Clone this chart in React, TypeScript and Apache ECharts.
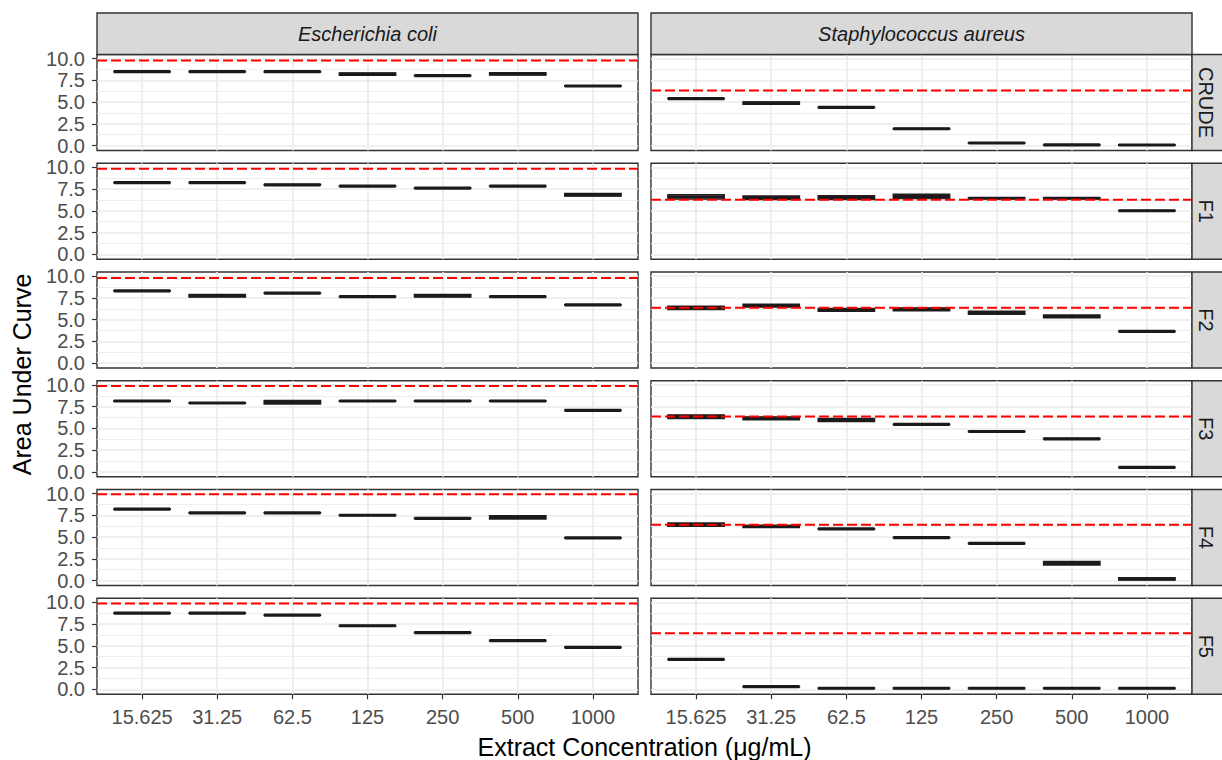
import React, { useEffect, useRef } from "react";
import * as echarts from "echarts";

const concentrations = ["15.625", "31.25", "62.5", "125", "250", "500", "1000"];
const fractions = ["CRUDE", "F1", "F2", "F3", "F4", "F5"];
const bacteria = ["Escherichia coli", "Staphylococcus aureus"];
const yMajorTicks = [0, 2.5, 5, 7.5, 10];
const yMinorTicks = [1.25, 3.75, 6.25, 8.75];

// Escherichia coli: one row per fraction (CRUDE, F1..F5), one value per concentration
const ecoliMedian = [
  [8.5, 8.5, 8.5, 8.22, 8.05, 8.25, 6.85],
  [8.25, 8.25, 8.0, 7.85, 7.62, 7.85, 6.85],
  [8.3, 7.75, 8.05, 7.65, 7.75, 7.65, 6.7],
  [8.15, 7.92, 8.0, 8.15, 8.15, 8.15, 7.07],
  [8.23, 7.79, 7.79, 7.52, 7.16, 7.28, 4.91],
  [8.78, 8.78, 8.55, 7.32, 6.52, 5.61, 4.82],
];
const ecoliLow = [
  [8.48, 8.48, 8.47, 8.1, 8.03, 8.12, 6.83],
  [8.23, 8.23, 7.98, 7.83, 7.6, 7.83, 6.7],
  [8.28, 7.6, 8.03, 7.63, 7.6, 7.63, 6.68],
  [8.13, 7.9, 7.8, 8.13, 8.13, 8.13, 7.05],
  [8.21, 7.77, 7.77, 7.5, 7.14, 7.1, 4.89],
  [8.76, 8.76, 8.53, 7.3, 6.5, 5.59, 4.8],
];
const ecoliHigh = [
  [8.52, 8.52, 8.53, 8.35, 8.07, 8.38, 6.87],
  [8.27, 8.27, 8.02, 7.87, 7.64, 7.87, 7.0],
  [8.32, 7.9, 8.07, 7.67, 7.9, 7.67, 6.72],
  [8.17, 7.94, 8.2, 8.17, 8.17, 8.17, 7.09],
  [8.25, 7.81, 7.81, 7.54, 7.18, 7.45, 4.93],
  [8.8, 8.8, 8.57, 7.34, 6.54, 5.63, 4.84],
];
const ecoliControl = [9.8, 9.85, 9.8, 9.87, 9.95, 9.88];

// Staphylococcus aureus
const saureusMedian = [
  [5.4, 4.88, 4.39, 1.93, 0.29, 0.08, 0.06],
  [6.6, 6.53, 6.55, 6.65, 6.45, 6.45, 5.01],
  [6.35, 6.6, 6.12, 6.18, 5.79, 5.36, 3.64],
  [6.37, 6.15, 5.96, 5.46, 4.64, 3.8, 0.5],
  [6.43, 6.23, 5.94, 4.95, 4.27, 1.98, 0.18],
  [3.44, 0.3, 0.12, 0.12, 0.12, 0.12, 0.12],
];
const saureusLow = [
  [5.38, 4.75, 4.37, 1.91, 0.27, 0.06, 0.04],
  [6.35, 6.32, 6.32, 6.42, 6.38, 6.38, 4.99],
  [6.15, 6.45, 5.95, 6.02, 5.62, 5.2, 3.62],
  [6.15, 6.0, 5.78, 5.44, 4.62, 3.78, 0.48],
  [6.25, 6.12, 5.92, 4.93, 4.25, 1.8, 0.05],
  [3.42, 0.28, 0.1, 0.1, 0.1, 0.1, 0.1],
];
const saureusHigh = [
  [5.42, 5.02, 4.41, 1.95, 0.31, 0.1, 0.08],
  [6.85, 6.72, 6.75, 6.9, 6.52, 6.52, 5.03],
  [6.55, 6.78, 6.28, 6.34, 5.95, 5.52, 3.66],
  [6.55, 6.3, 6.15, 5.48, 4.66, 3.82, 0.52],
  [6.62, 6.33, 5.96, 4.97, 4.29, 2.18, 0.32],
  [3.46, 0.32, 0.14, 0.14, 0.14, 0.14, 0.14],
];
const saureusControl = [6.34, 6.28, 6.37, 6.37, 6.43, 6.46];

const FONT = "'Liberation Sans', Arial, Helvetica, sans-serif";
const PANEL_LEFT = [97, 651];
const PANEL_WIDTH = 541;
const PANEL_TOP0 = 54.5;
const ROW_STEP = 108.76;
const PANEL_HEIGHT = 96;
const Y_MIN = -0.575;
const Y_MAX = 10.48;
const X_MIN = -0.6;
const X_MAX = 6.6;
const BOX_HALF = 0.375;

export default function App() {
  const ref = useRef<HTMLDivElement>(null);

  useEffect(() => {
    if (!ref.current) return;
    const chart = echarts.init(ref.current, null, { renderer: "svg" });

    const grids: any[] = [];
    const xAxes: any[] = [];
    const yAxes: any[] = [];
    const series: any[] = [];
    const graphics: any[] = [];

    const medians = [ecoliMedian, saureusMedian];
    const lows = [ecoliLow, saureusLow];
    const highs = [ecoliHigh, saureusHigh];
    const controls = [ecoliControl, saureusControl];

    const renderBox = (params: any, api: any) => {
      const x = api.value(0);
      const lo = api.value(1);
      const med = api.value(2);
      const hi = api.value(3);
      const tl = api.coord([x - BOX_HALF, hi]);
      const br = api.coord([x + BOX_HALF, lo]);
      const ml = api.coord([x - BOX_HALF, med]);
      const mr = api.coord([x + BOX_HALF, med]);
      return {
        type: "group",
        children: [
          {
            type: "rect",
            shape: { x: tl[0], y: tl[1], width: br[0] - tl[0], height: br[1] - tl[1] },
            style: { fill: "#ffffff", stroke: "#222222", lineWidth: 1.5 },
          },
          {
            type: "line",
            shape: { x1: ml[0], y1: ml[1], x2: mr[0], y2: mr[1] },
            style: { stroke: "#1a1a1a", lineWidth: 3.2 },
          },
        ],
      };
    };

    for (let r = 0; r < fractions.length; r++) {
      for (let c = 0; c < bacteria.length; c++) {
        const g = r * 2 + c;
        const top = PANEL_TOP0 + r * ROW_STEP;
        const isBottom = r === fractions.length - 1;
        grids.push({
          left: PANEL_LEFT[c],
          top,
          width: PANEL_WIDTH,
          height: PANEL_HEIGHT,
          show: true,
          borderColor: "#333333",
          borderWidth: 1.4,
          backgroundColor: "transparent",
          containLabel: false,
        });
        xAxes.push({
          type: "value",
          gridIndex: g,
          position: "bottom",
          min: X_MIN,
          max: X_MAX,
          axisLine: { show: false, onZero: false },
          axisTick: {
            show: isBottom,
            customValues: concentrations.map((_, i) => i),
            length: 5,
            lineStyle: { color: "#333333", width: 1.2 },
          },
          axisLabel: {
            show: isBottom,
            customValues: concentrations.map((_, i) => i),
            formatter: (v: number) => concentrations[Math.round(v)] ?? "",
            color: "#4D4D4D",
            fontSize: 20,
            fontFamily: FONT,
            margin: 13,
          },
          splitLine: { show: true, lineStyle: { color: "#EBEBEB", width: 1.6 } },
        });
        yAxes.push({
          type: "value",
          gridIndex: g,
          position: "left",
          min: Y_MIN,
          max: Y_MAX,
          axisLine: { show: false, onZero: false },
          axisTick: {
            show: c === 0,
            customValues: yMajorTicks,
            length: 5,
            lineStyle: { color: "#333333", width: 1.2 },
          },
          axisLabel: {
            show: c === 0,
            customValues: yMajorTicks,
            formatter: (v: number) => v.toFixed(1),
            color: "#4D4D4D",
            fontSize: 20,
            fontFamily: FONT,
            margin: 12,
          },
          splitLine: { show: true, lineStyle: { color: "#EBEBEB", width: 1.6 } },
        });
        yAxes.push({
          type: "value",
          gridIndex: g,
          position: "right",
          min: Y_MIN,
          max: Y_MAX,
          axisLine: { show: false, onZero: false },
          axisTick: { show: false, customValues: yMinorTicks },
          axisLabel: { show: false, customValues: yMinorTicks },
          splitLine: { show: true, lineStyle: { color: "#EEEEEE", width: 1.0 } },
        });

        series.push({
          type: "custom",
          xAxisIndex: g,
          yAxisIndex: 2 * g,
          silent: true,
          z: 3,
          encode: { x: 0, y: [1, 2, 3] },
          data: concentrations.map((_, i) => [i, lows[c][r][i], medians[c][r][i], highs[c][r][i]]),
          renderItem: renderBox,
        });
        series.push({
          type: "line",
          xAxisIndex: g,
          yAxisIndex: 2 * g,
          silent: true,
          z: 4,
          symbol: "none",
          showSymbol: false,
          data: [
            [X_MIN, controls[c][r]],
            [X_MAX, controls[c][r]],
          ],
          lineStyle: { color: "#FF0000", width: 2, type: [10, 4] },
        });
      }

      // right-side strip for this row
      const top = PANEL_TOP0 + r * ROW_STEP;
      graphics.push({
        type: "rect",
        shape: { x: 1192, y: top, width: 40, height: PANEL_HEIGHT },
        style: { fill: "#D9D9D9", stroke: "#333333", lineWidth: 1.4 },
        z: 10,
      });
      graphics.push({
        type: "text",
        x: 1206,
        y: top + PANEL_HEIGHT / 2,
        rotation: -Math.PI / 2,
        style: {
          text: fractions[r],
          fill: "#1A1A1A",
          fontSize: 20,
          fontFamily: FONT,
          align: "center",
          verticalAlign: "middle",
          textAlign: "center",
          textVerticalAlign: "middle",
        },
        z: 11,
      });
    }

    // top strips
    for (let c = 0; c < bacteria.length; c++) {
      graphics.push({
        type: "rect",
        shape: { x: PANEL_LEFT[c], y: 13, width: PANEL_WIDTH, height: PANEL_TOP0 - 13 },
        style: { fill: "#D9D9D9", stroke: "#333333", lineWidth: 1.4 },
        z: 10,
      });
      graphics.push({
        type: "text",
        x: PANEL_LEFT[c] + PANEL_WIDTH / 2,
        y: (13 + PANEL_TOP0) / 2,
        style: {
          text: bacteria[c],
          fill: "#1A1A1A",
          fontSize: 20,
          fontStyle: "italic",
          fontFamily: FONT,
          align: "center",
          verticalAlign: "middle",
          textAlign: "center",
          textVerticalAlign: "middle",
        },
        z: 11,
      });
    }

    // axis titles
    const panelsBottom = PANEL_TOP0 + (fractions.length - 1) * ROW_STEP + PANEL_HEIGHT;
    graphics.push({
      type: "text",
      x: (PANEL_LEFT[0] + PANEL_LEFT[1] + PANEL_WIDTH) / 2,
      y: 747,
      style: {
        text: "Extract Concentration (μg/mL)",
        fill: "#000000",
        fontSize: 25,
        fontFamily: FONT,
        align: "center",
        verticalAlign: "middle",
        textAlign: "center",
        textVerticalAlign: "middle",
      },
      z: 11,
    });
    graphics.push({
      type: "text",
      x: 22,
      y: (PANEL_TOP0 + panelsBottom) / 2,
      rotation: Math.PI / 2,
      style: {
        text: "Area Under Curve",
        fill: "#000000",
        fontSize: 25,
        fontFamily: FONT,
        align: "center",
        verticalAlign: "middle",
        textAlign: "center",
        textVerticalAlign: "middle",
      },
      z: 11,
    });

    chart.setOption({
      animation: false,
      backgroundColor: "#ffffff",
      textStyle: { fontFamily: FONT },
      grid: grids,
      xAxis: xAxes,
      yAxis: yAxes,
      series,
      graphic: { elements: graphics },
    });

    return () => {
      chart.dispose();
    };
  }, []);

  return (
    <div
      ref={ref}
      style={{ position: "fixed", left: 0, top: 0, width: 1222, height: 760, background: "#fff" }}
    />
  );
}
